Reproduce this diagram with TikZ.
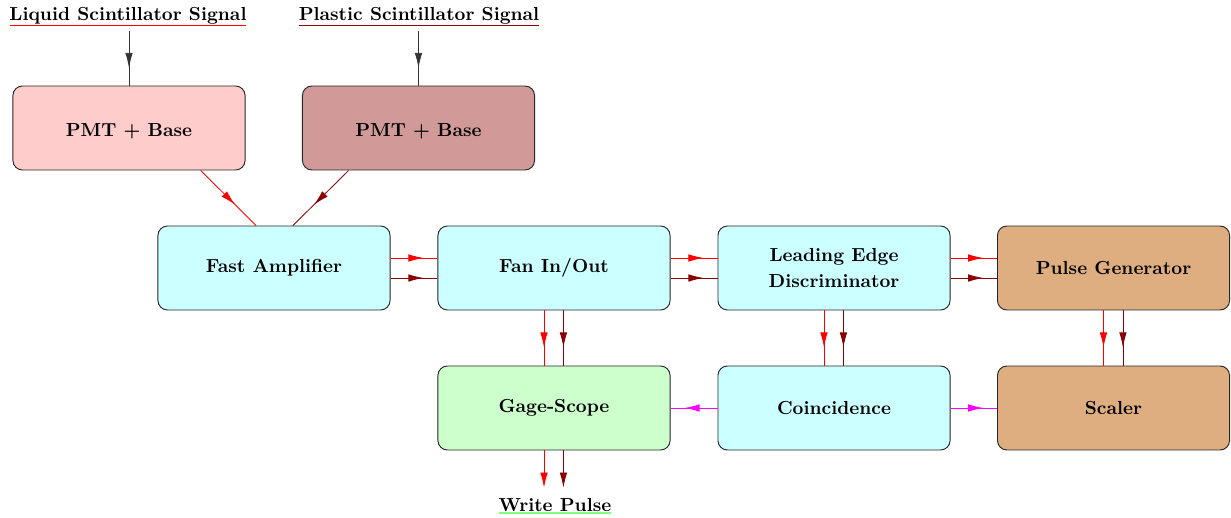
\documentclass[tikz,border=0pt]{standalone}
\usetikzlibrary{arrows.meta,decorations.markings}
\definecolor{pmtA}{RGB}{255,204,204}
\definecolor{pmtB}{RGB}{210,153,153}
\definecolor{cyanbox}{RGB}{204,255,255}
\definecolor{greenbox}{RGB}{204,255,204}
\definecolor{tanbox}{RGB}{222,174,128}
\definecolor{dred}{RGB}{139,0,0}
\definecolor{lgreen}{RGB}{128,255,128}
\definecolor{magentaline}{RGB}{255,0,255}
\definecolor{redline}{RGB}{255,0,0}
\tikzset{
  box/.style={draw=black!85, line width=0.5pt, rounded corners=5pt, minimum width=123pt, minimum height=44.5pt, font=\bfseries, align=center, inner sep=0pt},
  lbl/.style={font=\bfseries, inner sep=0.5pt},
  uline/.style={line width=0.7pt},
  midarrow/.style={line width=0.45pt, postaction={decorate}, decoration={markings, mark=at position 0.5 with {\arrow[xshift=5pt]{Latex[length=8pt,width=4pt]}}}},
  endarrow/.style={line width=0.45pt, -{Latex[length=8pt,width=4pt]}}
}
\begin{document}
\begin{tikzpicture}[x=0.53pt,y=-0.53pt]
\useasboundingbox (0,0) rectangle (1231,518);
% labels
\node[lbl] (lq) at (128,16) {Liquid Scintillator Signal};
\node[lbl] (pl) at (419,16) {Plastic Scintillator Signal};
\draw[redline, uline] ([xshift=1pt]lq.south west) -- ([xshift=-1pt]lq.south east);
\draw[dred, uline] ([xshift=1pt]pl.south west) -- ([xshift=-1pt]pl.south east);
% boxes
\node[box, fill=pmtA] (pmt1) at (129,128) {\raisebox{-2pt}[\height][\depth]{PMT + Base}};
\node[box, fill=pmtB] (pmt2) at (418.5,128) {\raisebox{-2pt}[\height][\depth]{PMT + Base}};
\node[box, fill=cyanbox] (amp) at (274,268) {Fast Amplifier};
\node[box, fill=cyanbox] (fan) at (554,268) {Fan In/Out};
\node[box, fill=cyanbox] (led) at (834,268) {Leading Edge\\[2pt]Discriminator};
\node[box, fill=tanbox] (pg) at (1113.5,268) {Pulse Generator};
\node[box, fill=greenbox] (gage) at (554,408) {Gage-Scope};
\node[box, fill=cyanbox] (coin) at (834,408) {Coincidence};
\node[box, fill=tanbox] (sc) at (1113.5,408) {Scaler};
\node[lbl] (wp) at (555,505) {Write Pulse};
\draw[lgreen, uline] ([xshift=1pt]wp.south west) -- ([xshift=-1pt]wp.south east);
% input arrows
\draw[midarrow, black!80] ([yshift=-3pt]lq.south -| pmt1.north) -- (pmt1.north);
\draw[midarrow, black!80] ([yshift=-3pt]pl.south -| pmt2.north) -- (pmt2.north);
% diagonal
\draw[midarrow, redline] ([xshift=38pt]pmt1.south) -- ([xshift=-9.5pt]amp.north);
\draw[midarrow, dred] ([xshift=-37pt]pmt2.south) -- ([xshift=10pt]amp.north);
% horizontal pairs
\foreach \a/\b in {amp/fan, fan/led, led/pg}{
  \draw[midarrow, redline] ([yshift=5.3pt]\a.east) -- ([yshift=5.3pt]\b.west);
  \draw[midarrow, dred] ([yshift=-5.3pt]\a.east) -- ([yshift=-5.3pt]\b.west);
}
% vertical pairs
\foreach \a/\b in {fan/gage, led/coin, pg/sc}{
  \draw[midarrow, redline] ([xshift=-5.3pt]\a.south) -- ([xshift=-5.3pt]\b.north);
  \draw[midarrow, dred] ([xshift=5pt]\a.south) -- ([xshift=5pt]\b.north);
}
% magenta
\draw[midarrow, magentaline] (coin.west) -- (gage.east);
\draw[midarrow, magentaline] (coin.east) -- (sc.west);
% write pulse
\draw[endarrow, redline] ([xshift=-5.3pt]gage.south) -- ([xshift=-5.3pt,yshift=5pt]gage.south |- wp.north);
\draw[endarrow, dred] ([xshift=5pt]gage.south) -- ([xshift=5pt,yshift=5pt]gage.south |- wp.north);
\end{tikzpicture}
\end{document}
